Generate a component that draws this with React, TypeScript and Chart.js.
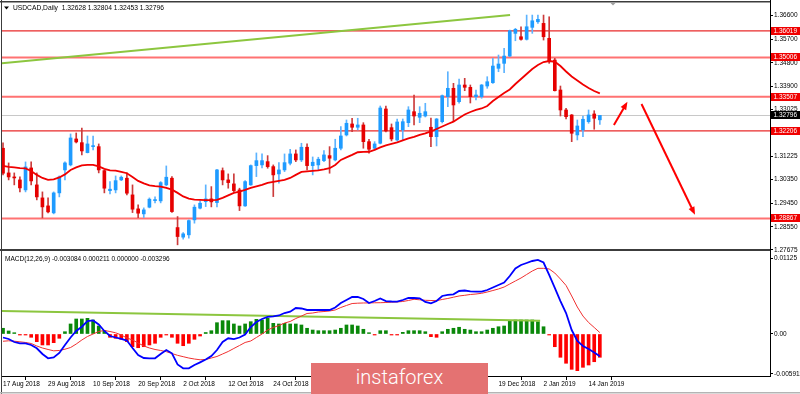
import React, { useEffect, useRef } from 'react';
import { Chart, registerables } from 'chart.js';

Chart.register(...registerables);

const FONT = "'Liberation Sans', Arial, sans-serif";

// ---------- Price data (daily candles, 17 Aug 2018 .. 16 Jan 2019) ----------
const opens = [1.31545,1.30604,1.30451,1.30337,1.29956,1.30794,1.30147,1.29651,1.29346,1.29080,
1.29842,1.30718,1.30909,1.31899,1.31758,1.31377,1.31606,1.31606,1.30691,1.29929,
1.29956,1.30337,1.30402,1.29766,1.29232,1.29042,1.29297,1.29548,1.29537,1.30147,
1.30402,1.28520,1.28154,1.28242,1.28813,1.29259,1.29510,1.29613,1.29472,1.30691,
1.30337,1.30185,1.29956,1.29346,1.30147,1.30882,1.30909,1.31034,1.30844,1.30566,
1.30718,1.30973,1.31328,1.31099,1.31583,1.30882,1.30909,1.31072,1.31263,1.31099,
1.31545,1.32052,1.32471,1.32345,1.32433,1.31796,1.31545,1.31735,1.33042,1.32330,
1.31861,1.32242,1.32520,1.32939,1.32726,1.32775,1.32345,1.31987,1.32558,1.33511,
1.33831,1.33320,1.33957,1.33869,1.33511,1.33511,1.33918,1.34044,1.34593,1.34783,
1.35061,1.35926,1.35797,1.35698,1.36155,1.36368,1.36307,1.35736,1.34909,1.33766,
1.33004,1.32814,1.32052,1.32242,1.32558,1.32852,1.32628];
const highs = [1.31747,1.30985,1.30604,1.30451,1.31023,1.31023,1.30604,1.29880,1.29651,1.29880,
1.30489,1.31023,1.32090,1.32128,1.32318,1.32013,1.32013,1.31709,1.30718,1.30272,
1.30489,1.30489,1.30604,1.30147,1.29385,1.29270,1.29651,1.29689,1.30272,1.30870,
1.30463,1.28939,1.28329,1.28813,1.29385,1.29537,1.30147,1.30082,1.30737,1.30794,
1.30566,1.30566,1.30021,1.30310,1.30909,1.31366,1.31328,1.31263,1.30909,1.30996,
1.31328,1.31507,1.31480,1.31735,1.31709,1.31213,1.31202,1.31453,1.31606,1.31888,
1.32368,1.32623,1.32688,1.32688,1.32520,1.31888,1.31796,1.33156,1.33156,1.32471,
1.32661,1.32661,1.33130,1.33576,1.33130,1.33259,1.32699,1.32680,1.33576,1.34463,
1.34021,1.34185,1.34212,1.33957,1.33766,1.33976,1.34273,1.34974,1.35100,1.35355,
1.36052,1.36117,1.36178,1.36624,1.36624,1.36624,1.36624,1.36559,1.34974,1.33918,
1.33069,1.32833,1.32623,1.32775,1.33004,1.32977,1.32804];
const lows = [1.30528,1.30337,1.30147,1.29880,1.29880,1.30147,1.29575,1.28889,1.29080,1.29042,
1.29689,1.30337,1.30870,1.31747,1.31290,1.31366,1.31480,1.30604,1.29842,1.29804,
1.29842,1.30310,1.29766,1.29091,1.28901,1.28901,1.29270,1.29461,1.29461,1.30109,
1.29099,1.27861,1.28078,1.28116,1.28687,1.29232,1.29320,1.29308,1.29308,1.30147,
1.30021,1.29891,1.29167,1.29327,1.30128,1.30463,1.30794,1.30783,1.29701,1.30211,
1.30653,1.30909,1.31034,1.31034,1.30718,1.30528,1.30718,1.31034,1.30592,1.31061,
1.31480,1.32013,1.32177,1.32242,1.31545,1.31354,1.31480,1.31709,1.32166,1.31823,
1.31823,1.31861,1.32368,1.32433,1.32520,1.32737,1.31606,1.31632,1.32509,1.33130,
1.32558,1.33259,1.33739,1.33271,1.33385,1.33450,1.33831,1.34021,1.34463,1.34425,
1.35035,1.35644,1.35671,1.35671,1.35926,1.36307,1.35671,1.34783,1.33728,1.32775,
1.32661,1.31796,1.31861,1.31987,1.32497,1.32269,1.32453];
const closes = [1.30592,1.30451,1.30413,1.30032,1.30832,1.30299,1.29689,1.29308,1.29118,1.29842,
1.30451,1.30985,1.31937,1.31785,1.31442,1.31709,1.31644,1.30718,1.30021,1.29983,
1.30310,1.30440,1.29830,1.29221,1.29068,1.29194,1.29602,1.29575,1.30234,1.30440,
1.29129,1.28177,1.28280,1.28786,1.29297,1.29449,1.29613,1.29499,1.30718,1.30337,
1.30234,1.29929,1.29346,1.30272,1.30882,1.31072,1.31072,1.30844,1.30528,1.30718,
1.30996,1.31328,1.31099,1.31583,1.30882,1.31011,1.31126,1.31290,1.31164,1.31545,
1.32013,1.32497,1.32345,1.32433,1.31796,1.31507,1.31709,1.33080,1.32204,1.31899,
1.32547,1.32558,1.33004,1.32775,1.32878,1.32939,1.31987,1.32661,1.33549,1.33831,
1.33195,1.33957,1.33869,1.33511,1.33576,1.33957,1.34082,1.34680,1.34757,1.35061,
1.36025,1.36079,1.35698,1.36178,1.36406,1.36460,1.35797,1.34844,1.33739,1.33004,
1.32749,1.32116,1.32394,1.32650,1.32814,1.32688,1.32796];
const movingAverage = [1.30870,1.30832,1.30813,1.30783,1.30775,1.30680,1.30528,1.30413,1.30337,1.30356,
1.30432,1.30547,1.30718,1.30813,1.30889,1.30909,1.30909,1.30851,1.30756,1.30699,
1.30691,1.30642,1.30592,1.30451,1.30299,1.30204,1.30127,1.30097,1.30082,1.30032,
1.29967,1.29842,1.29708,1.29621,1.29586,1.29575,1.29567,1.29563,1.29575,1.29651,
1.29746,1.29842,1.29891,1.29956,1.30032,1.30089,1.30147,1.30223,1.30261,1.30299,
1.30337,1.30413,1.30528,1.30642,1.30661,1.30680,1.30699,1.30737,1.30783,1.30909,
1.31099,1.31194,1.31290,1.31392,1.31404,1.31411,1.31480,1.31575,1.31651,1.31709,
1.31766,1.31842,1.31918,1.31975,1.32052,1.32109,1.32185,1.32280,1.32375,1.32471,
1.32558,1.32699,1.32833,1.32928,1.33004,1.33061,1.33156,1.33347,1.33499,1.33652,
1.33785,1.33995,1.34185,1.34376,1.34566,1.34719,1.34833,1.34871,1.34844,1.34680,
1.34471,1.34280,1.34128,1.33976,1.33842,1.33728,1.33640];

// ---------- MACD data ----------
const macdValues = [-0.00052,-0.00074,-0.00119,-0.00138,-0.00138,-0.00163,-0.00213,-0.00297,-0.00361,-0.00349,
-0.00282,-0.00163,-0.00052,0.00045,0.00108,0.00193,0.00201,0.00141,0.00045,-0.00030,
-0.00052,-0.00074,-0.00097,-0.00208,-0.00312,-0.00357,-0.00361,-0.00361,-0.00297,-0.00238,
-0.00287,-0.00453,-0.00510,-0.00510,-0.00461,-0.00421,-0.00379,-0.00327,-0.00238,-0.00119,
-0.00064,-0.00077,-0.00052,-0.00007,0.00104,0.00178,0.00223,0.00253,0.00263,0.00275,
0.00312,0.00331,0.00386,0.00379,0.00357,0.00357,0.00357,0.00357,0.00357,0.00394,
0.00461,0.00505,0.00550,0.00550,0.00520,0.00461,0.00490,0.00528,0.00490,0.00483,
0.00480,0.00505,0.00535,0.00535,0.00530,0.00476,0.00456,0.00490,0.00565,0.00580,
0.00590,0.00639,0.00646,0.00632,0.00629,0.00629,0.00654,0.00691,0.00728,0.00765,
0.00862,0.00973,0.01025,0.01055,0.01085,0.01100,0.01062,0.00877,0.00684,0.00490,
0.00312,0.00059,-0.00104,-0.00178,-0.00223,-0.00275,-0.00330];
const signalValues = [-0.00108,-0.00101,-0.00107,-0.00116,-0.00126,-0.00141,-0.00178,-0.00208,-0.00230,-0.00250,
-0.00245,-0.00226,-0.00201,-0.00149,-0.00089,-0.00037,0.00000,0.00037,0.00052,0.00037,
0.00018,-0.00015,-0.00059,-0.00089,-0.00134,-0.00178,-0.00208,-0.00230,-0.00245,-0.00263,
-0.00290,-0.00317,-0.00337,-0.00357,-0.00372,-0.00383,-0.00379,-0.00357,-0.00334,-0.00297,
-0.00260,-0.00215,-0.00171,-0.00126,-0.00104,-0.00052,0.00000,0.00059,0.00097,0.00126,
0.00163,0.00186,0.00230,0.00267,0.00305,0.00312,0.00327,0.00334,0.00342,0.00357,
0.00394,0.00424,0.00453,0.00458,0.00461,0.00462,0.00464,0.00465,0.00468,0.00473,
0.00476,0.00483,0.00498,0.00516,0.00508,0.00501,0.00498,0.00495,0.00513,0.00528,
0.00547,0.00565,0.00575,0.00587,0.00594,0.00605,0.00624,0.00646,0.00669,0.00698,
0.00743,0.00788,0.00832,0.00884,0.00936,0.00976,0.00976,0.00966,0.00906,0.00817,
0.00721,0.00565,0.00401,0.00267,0.00171,0.00097,0.00021];
const histValues = [0.00085,0.00045,0.00019,-0.00015,-0.00015,-0.00049,-0.00114,-0.00163,-0.00163,-0.00129,
-0.00064,0.00034,0.00149,0.00223,0.00223,0.00233,0.00208,0.00119,0.00049,-0.00049,
-0.00064,-0.00079,-0.00114,-0.00189,-0.00204,-0.00189,-0.00163,-0.00138,-0.00049,-0.00015,
-0.00049,-0.00138,-0.00174,-0.00138,-0.00079,-0.00030,0.00022,0.00049,0.00168,0.00198,
0.00198,0.00149,0.00119,0.00149,0.00183,0.00218,0.00208,0.00233,0.00159,0.00149,
0.00159,0.00149,0.00149,0.00134,0.00085,0.00059,0.00049,0.00049,0.00049,0.00059,
0.00085,0.00134,0.00134,0.00119,0.00070,0.00019,-0.00015,0.00049,0.00049,-0.00015,
-0.00015,0.00025,0.00049,0.00049,0.00049,0.00034,-0.00040,-0.00049,0.00034,0.00070,
0.00085,0.00100,0.00070,0.00059,0.00034,0.00034,0.00059,0.00085,0.00108,0.00119,
0.00198,0.00208,0.00208,0.00208,0.00208,0.00183,0.00108,-0.00015,-0.00189,-0.00346,
-0.00435,-0.00525,-0.00545,-0.00495,-0.00461,-0.00412,-0.00346];
const macdHeaderValues = ['-0.003084', '0.000211', '0.000000', '-0.003296'];

// ---------- Axes / ticks ----------
const dateTickIndex = [0, 8, 16, 24, 32, 40, 48, 56, 64, 72, 80, 88, 96, 104];
const dateTickLabels = ['17 Aug 2018', '29 Aug 2018', '10 Sep 2018', '20 Sep 2018', '2 Oct 2018', '12 Oct 2018',
  '24 Oct 2018', '5 Nov 2018', '15 Nov 2018', '27 Nov 2018', '7 Dec 2018', '19 Dec 2018', '2 Jan 2019', '14 Jan 2019'];
const priceTicks = [1.27675, 1.2855, 1.2945, 1.3035, 1.31225, 1.32125, 1.33025, 1.339, 1.348, 1.357, 1.366];
const macdTicks = [-0.005911, 0, 0.01125];
const macdTickLabels = ['-0.005911', '0.00', '0.01125'];

// ---------- Drawn objects ----------
const levelPrices = [1.36019, 1.35006, 1.33507, 1.32206, 1.28867];
const levelHeavy = [false, true, true, false, true];
const currentPrice = 1.32796;
const trendMain = [{ x: -0.53, y: 1.34783 }, { x: 90.05, y: 1.36624 }];
const trendMacd = [{ x: -0.53, y: 0.00342 }, { x: 95.4, y: 0.00198 }];
const arrowsFrom = [{ x: 108.5, y: 1.32433 }, { x: 113.4, y: 1.33233 }];
const arrowsTo = [{ x: 110.9, y: 1.3332 }, { x: 122.9, y: 1.29004 }];

const X_MIN = -0.18, X_MAX = 136.22;
const PRICE_MIN = 1.27664, PRICE_MAX = 1.37084;
const MACD_MIN = -0.006242, MACD_MAX = 0.012186;

const BLUE = '#1e9bff', BLUE_WICK = '#5cb3ff', RED = '#e60000', RED_WICK = '#cc3b3b';

function drawArrow(ctx: CanvasRenderingContext2D, x1: number, y1: number, x2: number, y2: number) {
  const ang = Math.atan2(y2 - y1, x2 - x1);
  const len = 8, w = 3.2;
  ctx.beginPath();
  ctx.moveTo(x1, y1);
  ctx.lineTo(x2 - 4 * Math.cos(ang), y2 - 4 * Math.sin(ang));
  ctx.stroke();
  ctx.beginPath();
  ctx.moveTo(x2, y2);
  ctx.lineTo(x2 - len * Math.cos(ang) + w * Math.sin(ang), y2 - len * Math.sin(ang) - w * Math.cos(ang));
  ctx.lineTo(x2 - len * Math.cos(ang) - w * Math.sin(ang), y2 - len * Math.sin(ang) + w * Math.cos(ang));
  ctx.closePath();
  ctx.fill();
}

function noPad(s: any) {
  s.paddingTop = 0; s.paddingBottom = 0; s.paddingLeft = 0; s.paddingRight = 0;
}

const mainPlugin = {
  id: 'mainPlugin',
  beforeDatasetsDraw(chart: any) {
    const { ctx, chartArea: a, scales: { y } } = chart;
    ctx.save();
    ctx.beginPath();
    ctx.rect(a.left, a.top, a.right - a.left, a.bottom - a.top);
    ctx.clip();
    const cy = Math.round(y.getPixelForValue(currentPrice)) + 0.5;
    ctx.strokeStyle = '#c8c8c8';
    ctx.lineWidth = 1;
    ctx.beginPath(); ctx.moveTo(a.left, cy); ctx.lineTo(a.right, cy); ctx.stroke();
    levelPrices.forEach((p, i) => {
      const ly = y.getPixelForValue(p);
      ctx.strokeStyle = levelHeavy[i] ? '#ff7272' : '#e82a2a';
      ctx.lineWidth = levelHeavy[i] ? 2 : 1.2;
      ctx.beginPath(); ctx.moveTo(a.left, ly); ctx.lineTo(a.right, ly); ctx.stroke();
    });
    ctx.restore();
  },
  afterDatasetsDraw(chart: any) {
    const { ctx, scales: { x, y } } = chart;
    ctx.save();
    ctx.strokeStyle = '#ff0000';
    ctx.fillStyle = '#ff0000';
    ctx.lineWidth = 2;
    arrowsFrom.forEach((f, i) => {
      const t = arrowsTo[i];
      drawArrow(ctx, x.getPixelForValue(f.x), y.getPixelForValue(f.y), x.getPixelForValue(t.x), y.getPixelForValue(t.y));
    });
    ctx.restore();
  },
  afterDraw(chart: any) {
    const { ctx, chartArea: a, scales: { y } } = chart;
    ctx.save();
    // frame
    ctx.fillStyle = '#3c3c3c';
    ctx.fillRect(0, 1, a.right, 1.5);
    ctx.fillRect(1, 0, 1, chart.height);
    ctx.fillRect(0, a.bottom - 1, a.right, 2);
    ctx.fillStyle = '#000';
    ctx.fillRect(a.right, 0, 1, a.bottom + 1);
    // level labels
    ctx.font = `6.5px ${FONT}`;
    ctx.textBaseline = 'middle';
    ctx.textAlign = 'left';
    levelPrices.forEach((p) => {
      const ly = Math.round(y.getPixelForValue(p));
      ctx.fillStyle = '#f00000';
      ctx.fillRect(a.right + 1, ly - 4, 30, 8);
      ctx.fillStyle = '#fff';
      ctx.fillText(p.toFixed(5), a.right + 3.5, ly);
    });
    const cy = Math.round(y.getPixelForValue(currentPrice));
    ctx.fillStyle = '#000';
    ctx.fillRect(a.right + 1, cy - 4, 30, 8);
    ctx.fillStyle = '#fff';
    ctx.fillText(currentPrice.toFixed(5), a.right + 3.5, cy);
    // header
    const last = closes.length - 1;
    ctx.fillStyle = '#000';
    ctx.font = `6.7px ${FONT}`;
    ctx.fillText(`USDCAD,Daily  ${opens[last].toFixed(5)} ${highs[last].toFixed(5)} ${lows[last].toFixed(5)} ${closes[last].toFixed(5)}`, 13, 8);
    ctx.beginPath();
    ctx.moveTo(4, 6.5); ctx.lineTo(9, 6.5); ctx.lineTo(6.5, 9.5); ctx.closePath();
    ctx.fill();
    // chart shift marker
    ctx.fillStyle = '#a0a0a0';
    ctx.beginPath();
    ctx.moveTo(610, 2.5); ctx.lineTo(616, 2.5); ctx.lineTo(613, 5.5); ctx.closePath();
    ctx.fill();
    ctx.restore();
  },
};

const macdPlugin = {
  id: 'macdPlugin',
  afterDraw(chart: any) {
    const { ctx, chartArea: a } = chart;
    ctx.save();
    ctx.fillStyle = '#3c3c3c';
    ctx.fillRect(1, 0, 1, chart.height);
    ctx.fillStyle = '#000';
    ctx.fillRect(a.right, 0, 1, a.bottom);
    ctx.fillStyle = '#b4b4b4';
    ctx.fillRect(0, chart.height - 2, chart.width, 1.5);
    ctx.fillStyle = '#000';
    ctx.font = `6.5px ${FONT}`;
    ctx.textBaseline = 'middle';
    ctx.textAlign = 'left';
    ctx.fillText(`MACD(12,26,9) ${macdHeaderValues.join(' ')}`, 5, 8.3);
    ctx.restore();
  },
};

export default function App() {
  const mainRef = useRef<HTMLCanvasElement>(null);
  const macdRef = useRef<HTMLCanvasElement>(null);

  useEffect(() => {
    document.body.style.margin = '0';
    const idx = closes.map((_, i) => i);
    const up = idx.map((i) => closes[i] >= opens[i]);

    const xScaleHidden: any = { type: 'linear', min: X_MIN, max: X_MAX, display: false, offset: false };

    const main = new Chart(mainRef.current!, {
      type: 'bar',
      data: {
        datasets: [
          {
            type: 'line', data: idx.map((i) => ({ x: i, y: movingAverage[i] })),
            borderColor: '#f00000', borderWidth: 1.8, pointRadius: 0, tension: 0, order: 0,
          } as any,
          {
            type: 'line', data: trendMain, borderColor: '#8cc63f', borderWidth: 2, pointRadius: 0, order: 1,
          } as any,
          {
            type: 'bar', data: idx.map((i) => ({ x: i, y: [opens[i], closes[i]] })),
            backgroundColor: up.map((u) => (u ? BLUE : RED)), barThickness: 3, minBarLength: 1,
            grouped: false, order: 2,
          } as any,
          {
            type: 'bar', data: idx.map((i) => ({ x: i, y: [lows[i], highs[i]] })),
            backgroundColor: up.map((u) => (u ? BLUE_WICK : RED_WICK)), barThickness: 1,
            grouped: false, order: 3,
          } as any,
        ],
      },
      options: {
        animation: false,
        responsive: false,
        events: [],
        layout: { padding: { left: 2, top: 3, right: 0, bottom: 6 } },
        plugins: { legend: { display: false }, tooltip: { enabled: false } },
        scales: {
          x: xScaleHidden,
          y: {
            type: 'linear', position: 'right', min: PRICE_MIN, max: PRICE_MAX,
            afterFit: (s: any) => { s.width = 30; noPad(s); },
            afterBuildTicks: (s: any) => { s.ticks = priceTicks.map((v) => ({ value: v })); },
            ticks: {
              autoSkip: false, padding: 1, color: '#000',
              font: { size: 6.5, family: FONT },
              callback: (v: any) => Number(v).toFixed(5),
            },
            grid: { drawOnChartArea: false, drawTicks: true, tickLength: 3, color: '#000' },
            border: { display: true, color: '#000' },
          } as any,
        },
      },
      plugins: [mainPlugin],
    });

    const macd = new Chart(macdRef.current!, {
      type: 'bar',
      data: {
        datasets: [
          {
            type: 'line', data: idx.map((i) => ({ x: i, y: macdValues[i] })),
            borderColor: '#0000ff', borderWidth: 1.8, pointRadius: 0, order: 0,
          } as any,
          {
            type: 'line', data: idx.map((i) => ({ x: i, y: signalValues[i] })),
            borderColor: '#f03030', borderWidth: 1, pointRadius: 0, order: 1,
          } as any,
          {
            type: 'line', data: trendMacd, borderColor: '#8cc63f', borderWidth: 2, pointRadius: 0, order: 2,
          } as any,
          {
            type: 'bar', data: idx.map((i) => ({ x: i, y: histValues[i] })),
            backgroundColor: histValues.map((v) => (v >= 0 ? '#0a880a' : '#ff0000')),
            barThickness: 3, grouped: false, order: 3,
          } as any,
        ],
      },
      options: {
        animation: false,
        responsive: false,
        events: [],
        layout: { padding: { left: 2, top: 1, right: 0, bottom: 0 } },
        plugins: { legend: { display: false }, tooltip: { enabled: false } },
        scales: {
          x: {
            type: 'linear', min: X_MIN, max: X_MAX, offset: false,
            afterFit: (s: any) => { s.height = 18; noPad(s); },
            afterBuildTicks: (s: any) => { s.ticks = dateTickIndex.map((v) => ({ value: v })); },
            ticks: {
              autoSkip: false, maxRotation: 0, align: 'start', padding: 0, color: '#000',
              font: { size: 6.5, family: FONT },
              callback: (_v: any, i: number) => dateTickLabels[i],
            },
            grid: { drawOnChartArea: false, drawTicks: true, tickLength: 4, color: '#000' },
            border: { display: true, color: '#000' },
          } as any,
          y: {
            type: 'linear', position: 'right', min: MACD_MIN, max: MACD_MAX,
            afterFit: (s: any) => { s.width = 30; noPad(s); },
            afterBuildTicks: (s: any) => { s.ticks = macdTicks.map((v) => ({ value: v })); },
            ticks: {
              autoSkip: false, padding: 1, color: '#000',
              font: { size: 6.5, family: FONT },
              callback: (_v: any, i: number) => macdTickLabels[i],
            },
            grid: { drawOnChartArea: false, drawTicks: true, tickLength: 3, color: '#000' },
            border: { display: true, color: '#000' },
          } as any,
        },
      },
      plugins: [macdPlugin],
    });

    return () => { main.destroy(); macd.destroy(); };
  }, []);

  return (
    <div style={{ position: 'relative', width: 800, height: 394, background: '#fff', overflow: 'hidden' }}>
      <canvas ref={macdRef} width={800} height={143} style={{ position: 'absolute', left: 0, top: 251, width: 800, height: 143 }} />
      <canvas ref={mainRef} width={800} height={256} style={{ position: 'absolute', left: 0, top: 0, width: 800, height: 256 }} />
      <div style={{
        position: 'absolute', left: 311, top: 363, width: 177, height: 31, background: '#e47272',
        color: '#fff', fontFamily: "Roboto, 'Liberation Sans', sans-serif", fontWeight: 300, fontSize: 20,
        lineHeight: '28px', textAlign: 'center', letterSpacing: 0,
      }}>instaforex</div>
    </div>
  );
}
